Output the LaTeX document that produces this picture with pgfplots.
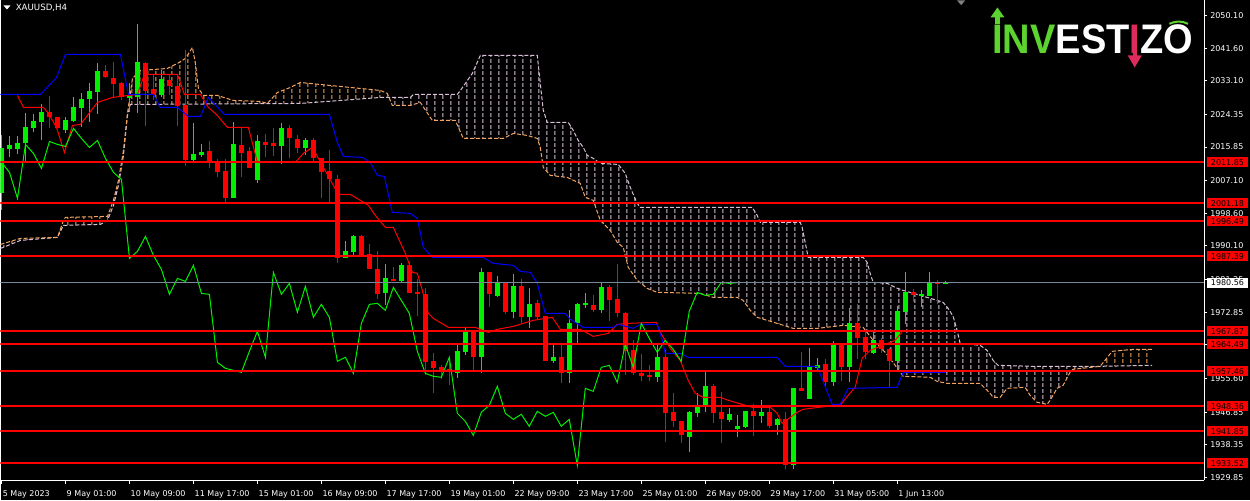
\documentclass[border=0pt]{standalone}
\usepackage{fontspec}
\setmainfont{DejaVu Sans}
\newfontfamily\logofont{Liberation Sans}
\usepackage{pgfplots}
\pgfplotsset{compat=1.18}
\usepackage{pgfplotstable}
\usetikzlibrary{patterns}
\definecolor{sandy}{HTML}{F4A460}
\definecolor{thist}{HTML}{D8BFD8}
\definecolor{bull}{HTML}{00F000}
\definecolor{bear}{HTML}{FF0000}
\definecolor{kijun}{HTML}{0000FF}
\definecolor{bidgray}{HTML}{778899}
\definecolor{logogreen}{HTML}{5CD32E}
\definecolor{logopink}{HTML}{DC2B5C}
\pgfdeclarepatternformonly{vdash}{\pgfpointorigin}{\pgfpoint{6pt}{4.5pt}}{\pgfpoint{6pt}{4.5pt}}{%
  \pgfsetlinewidth{0.75pt}%
  \pgfpathmoveto{\pgfpoint{3pt}{0pt}}%
  \pgfpathlineto{\pgfpoint{3pt}{3pt}}%
  \pgfusepath{stroke}}
\newcommand\lblfont{\fontsize{6}{7}\selectfont}

\pgfplotstableread{
n o h l c
1 2003.78 2018.87 1999.36 2015.49
2 2015.23 2018.61 2013.15 2016.27
3 2015.23 2018.61 2013.93 2016.79
4 2016.79 2024.60 2011.85 2020.96
5 2020.71 2024.34 2019.65 2022.52
6 2022.26 2026.94 2017.57 2024.86
9 2020.43 2023.56 2019.39 2022.78
10 2022.52 2028.76 2022.26 2026.16
11 2025.90 2029.80 2020.96 2028.24
12 2028.24 2032.66 2022.26 2030.32
13 2030.06 2037.61 2024.34 2035.53
17 2028.50 2032.66 2024.86 2029.02
18 2028.76 2048.02 2024.60 2037.87
21 2029.28 2035.79 2028.76 2033.44
25 2012.37 2022.00 2011.85 2013.93
26 2013.67 2016.53 2013.15 2014.45
30 2002.48 2022.26 2002.48 2016.53
33 2007.16 2018.87 2006.38 2017.31
36 2016.01 2022.00 2011.33 2020.71
39 2015.49 2018.09 2013.67 2017.57
44 1986.87 1991.29 1986.87 1988.69
45 1988.43 1992.85 1987.65 1992.59
49 1977.76 1985.31 1974.64 1981.66
51 1980.88 1985.57 1980.36 1985.05
58 1956.95 1964.23 1955.64 1962.67
59 1962.41 1968.65 1961.63 1967.87
61 1961.11 1984.27 1956.95 1983.23
63 1976.98 1982.18 1976.72 1980.36
65 1972.82 1982.71 1971.26 1979.58
67 1971.52 1979.06 1968.65 1974.90
70 1960.07 1964.49 1959.55 1961.11
72 1956.95 1973.34 1954.34 1969.95
73 1969.95 1975.16 1964.23 1974.90
74 1974.90 1977.76 1973.86 1975.16
76 1973.34 1980.62 1972.56 1979.32
83 1955.92 1964.75 1954.60 1961.11
87 1940.29 1947.06 1936.39 1946.80
88 1946.54 1951.74 1945.50 1948.62
89 1948.36 1957.21 1946.80 1953.56
92 1944.72 1947.84 1944.20 1946.28
93 1942.37 1946.02 1940.29 1943.15
94 1942.89 1947.06 1942.63 1947.06
96 1945.76 1949.92 1943.94 1946.80
98 1943.42 1945.24 1940.81 1944.98
100 1933.00 1953.04 1931.96 1953.04
102 1950.18 1963.45 1950.18 1958.51
103 1958.25 1960.85 1957.47 1959.03
105 1954.60 1965.27 1953.56 1964.49
107 1958.51 1973.86 1954.60 1969.95
110 1962.15 1967.61 1961.89 1965.53
113 1960.07 1974.38 1957.73 1973.08
114 1972.82 1983.23 1969.69 1978.02
116 1977.24 1978.54 1974.12 1977.50
117 1976.98 1983.23 1976.98 1980.62
119 1980.30 1980.88 1980.10 1980.56
}\bulltab

\pgfplotstableread{
n o h l c
7 2024.86 2029.02 2020.71 2023.56
8 2023.56 2023.56 2020.71 2020.71
14 2035.53 2037.09 2033.70 2033.96
15 2033.96 2038.13 2028.76 2032.40
16 2032.66 2032.66 2027.98 2028.76
19 2037.87 2037.87 2021.22 2030.58
20 2030.84 2034.75 2027.98 2029.28
22 2033.44 2034.75 2029.28 2031.88
23 2031.88 2034.75 2021.22 2026.42
24 2026.68 2041.25 2010.81 2012.37
27 2014.71 2017.31 2010.29 2011.85
28 2011.85 2012.63 2007.94 2009.25
29 2009.51 2012.63 2000.92 2002.48
31 2016.27 2020.96 2007.94 2014.19
32 2014.71 2015.75 2010.29 2010.29
34 2017.31 2019.13 2013.15 2016.53
35 2016.79 2020.71 2013.41 2016.01
37 2020.71 2021.48 2012.89 2018.09
38 2018.09 2018.87 2014.19 2015.75
40 2017.57 2018.09 2011.85 2012.89
41 2012.89 2012.89 2002.48 2009.25
42 2009.51 2014.97 2001.44 2007.42
43 2007.42 2008.47 1985.57 1986.87
46 1992.59 1992.85 1987.65 1987.65
47 1987.91 1990.51 1984.01 1984.01
48 1984.01 1988.69 1976.20 1977.50
50 1981.40 1984.53 1980.88 1980.88
52 1985.05 1985.83 1977.76 1977.76
53 1978.02 1981.40 1971.78 1977.50
54 1977.50 1979.06 1956.43 1959.81
55 1960.07 1962.15 1951.74 1958.25
56 1958.51 1959.03 1955.38 1957.73
57 1957.99 1960.85 1953.82 1957.21
60 1967.87 1968.13 1957.73 1961.11
62 1983.23 1983.23 1974.12 1977.50
64 1980.36 1980.36 1972.30 1972.82
66 1979.58 1981.40 1969.95 1971.52
68 1975.16 1975.94 1970.74 1971.52
69 1971.78 1971.78 1960.07 1960.07
71 1961.11 1964.49 1954.34 1956.95
75 1974.64 1977.24 1972.82 1973.34
77 1979.32 1979.84 1970.48 1975.94
78 1976.20 1985.31 1971.52 1972.56
79 1972.56 1972.82 1956.43 1962.67
80 1962.93 1965.53 1956.43 1956.95
81 1956.95 1961.89 1954.86 1956.17
82 1956.43 1959.03 1954.86 1955.92
84 1961.11 1962.93 1938.99 1946.54
85 1946.80 1951.74 1942.89 1944.46
86 1944.46 1944.46 1938.73 1940.81
90 1953.56 1954.08 1943.94 1946.54
91 1946.80 1952.00 1938.73 1944.98
95 1947.06 1948.88 1940.55 1945.76
97 1946.80 1948.10 1942.63 1943.15
99 1944.98 1946.80 1931.96 1933.00
101 1953.04 1962.41 1952.26 1952.26
104 1959.29 1960.59 1953.56 1954.60
106 1964.75 1964.75 1954.86 1958.51
108 1969.95 1974.90 1960.59 1966.05
109 1966.31 1967.61 1960.59 1962.41
111 1965.53 1966.05 1962.15 1963.19
112 1963.19 1963.45 1953.30 1960.07
115 1978.02 1978.80 1975.42 1977.24
118 1980.62 1981.14 1974.90 1980.36
}\beartab

\begin{document}
\begin{tikzpicture}[x=1pt,y=1pt]
\fill[black] (0,0) rectangle (937.5,375);
\begin{axis}[
  at={(0pt,15pt)}, anchor=south west,
  scale only axis, width=903pt, height=360pt,
  xmin=0.875, xmax=151.375, ymin=1929.1, ymax=2054.0,
  axis x line*=bottom, axis y line*=right,
  axis line style={white, line width=0.75pt},
  tick style={white, line width=0.75pt},
  tick align=outside, major tick length=2.5pt,
  xtick={1,9,17,25,33,41,49,57,65,73,81,89,97,105,113},
  xticklabels={5 May 2023, 9 May 01:00, 10 May 09:00, 11 May 17:00, 15 May 01:00, 16 May 09:00, 17 May 17:00, 19 May 01:00, 22 May 09:00, 23 May 17:00, 25 May 01:00, 26 May 09:00, 29 May 17:00, 31 May 05:00, 1 Jun 13:00},
  ytick={2050.10,2041.60,2033.10,2024.35,2015.85,2007.10,1998.60,1990.10,1981.35,1972.85,1964.35,1955.60,1946.85,1938.35,1929.85},
  yticklabels={2050.10,2041.60,2033.10,2024.35,2015.85,2007.10,1998.60,1990.10,1981.35,1972.85,1964.35,1955.60,1946.85,1938.35,1929.85},
  xticklabel style={font=\lblfont, text=white, anchor=base west, inner sep=0pt, xshift=0.75pt, yshift=-9.75pt},
  yticklabel style={font=\lblfont, text=white, anchor=west, inner sep=0pt, xshift=2pt},
]
% cloud hatching: span A forward, span B back, per crossing segment
\addplot[draw=none, pattern=vdash, pattern color=sandy, forget plot] coordinates {
(0.875,1990.51) (3.375,1992.07) (8,1992.33) (8.75,1996.76) (9,1997.54) (14.25,1997.80) (15,2001.96) (15.625,2007.16) (16.25,2014.97) (16.75,2024.60) (17.375,2033.70) (18.375,2035.79) (21.75,2036.31) (23,2037.61) (24,2038.91) (24.875,2041.77) (25.25,2037.61) (25.625,2031.10) (26.25,2029.28) (28,2029.28) (30,2027.98) (33.375,2027.72) (34.25,2027.20) (35.5,2030.06) (37.125,2031.36) (38.375,2032.66) (42.125,2031.88) (45.875,2031.10) (48.375,2030.58) (49.25,2029.80) (49.46,2028.76)
(48.375,2028.76) (38.375,2027.20) (17.125,2026.94) (16.75,2024.08) (16.25,2013.67) (15.625,2005.86) (15,2000.66) (14.25,1996.76) (13.375,1995.72) (8.75,1995.46) (8,1992.33) (3.375,1991.55) (0.875,1989.47)};
\addplot[draw=none, pattern=vdash, pattern color=thist, forget plot] coordinates {
(49.46,2028.76) (49.875,2026.68) (52.125,2026.68) (53.375,2027.46) (54.875,2022.78) (57.75,2022.78) (58.75,2018.09) (63.75,2018.09) (65,2019.39) (66.75,2018.87) (68,2018.09) (68.375,2015.75) (68.75,2010.55) (69.625,2008.47) (71.75,2007.94) (73.375,2006.38) (74,2002.74) (75,2001.96) (75.875,1996.76) (77.125,1994.15) (78,1991.03) (78.75,1989.73) (79.375,1984.53) (80.5,1981.14) (81.75,1979.06) (83,1978.02) (88.375,1977.76) (90,1976.72) (93,1976.72) (93.75,1975.94) (94.625,1973.34) (95.5,1971.52) (96.75,1970.74) (98,1969.95) (100,1968.65) (103,1968.65) (106.25,1969.43) (108.75,1968.91) (110,1965.53) (111.5,1962.41) (112.75,1959.03) (113.75,1956.17) (117.125,1955.92) (118,1954.86) (119.25,1954.34) (123.375,1954.34) (124.625,1951.74) (125,1950.70) (125.875,1950.70) (126.75,1953.04) (129,1953.30) (129.625,1951.22) (130.5,1949.40) (131.75,1948.88) (132.125,1949.92) (133,1953.04) (133.75,1953.82) (134.625,1957.21) (135,1957.99) (138.375,1958.77)
(130,1958.77) (125.625,1959.03) (125,1960.33) (124.25,1962.93) (123.375,1964.23) (120.875,1964.75) (120.5,1968.13) (120,1971.78) (119.375,1973.86) (118.75,1975.42) (118,1975.94) (115.875,1977.24) (113.75,1978.54) (112.75,1979.32) (111.75,1980.36) (110,1980.62) (109.625,1982.97) (109.25,1985.83) (108.75,1987.13) (101.875,1987.13) (101.75,1988.43) (101.125,1994.93) (100.875,1996.24) (95.875,1996.24) (95.5,1998.06) (94.875,2000.14) (80.875,2000.14) (80.5,2001.18) (79.625,2005.34) (79,2008.99) (78.125,2011.33) (75.875,2011.59) (75,2012.89) (74.25,2013.67) (73.75,2015.75) (73.125,2017.57) (72.5,2020.17) (71.875,2022.26) (69.25,2022.26) (68.75,2025.38) (68.375,2032.40) (68,2039.69) (60.875,2039.69) (59.875,2035.01) (59,2032.40) (58.375,2030.58) (58,2029.54) (52.5,2029.54) (52.125,2028.76)};
\addplot[draw=none, pattern=vdash, pattern color=sandy, forget plot] coordinates {
(138.375,1958.77) (139,1960.33) (139.875,1962.67) (142.5,1963.19) (144.875,1963.19) (144.875,1959.03)};
% Senkou Span B
\addplot[thist, line width=0.75pt, dash pattern=on 3pt off 1.5pt] coordinates {
(0.875,1989.47) (3.375,1991.55) (8,1992.33) (8.75,1995.46) (13.375,1995.72) (14.25,1996.76) (15,2000.66) (15.625,2005.86) (16.25,2013.67) (16.75,2024.08) (17.125,2026.94) (38.375,2027.20) (48.375,2028.76) (52.125,2028.76) (52.5,2029.54) (58,2029.54) (58.375,2030.58) (59,2032.40) (59.875,2035.01) (60.875,2039.69) (68,2039.69) (68.375,2032.40) (68.75,2025.38) (69.25,2022.26) (71.875,2022.26) (72.5,2020.17) (73.125,2017.57) (73.75,2015.75) (74.25,2013.67) (75,2012.89) (75.875,2011.59) (78.125,2011.33) (79,2008.99) (79.625,2005.34) (80.5,2001.18) (80.875,2000.14) (94.875,2000.14) (95.5,1998.06) (95.875,1996.24) (100.875,1996.24) (101.125,1994.93) (101.75,1988.43) (101.875,1987.13) (108.75,1987.13) (109.25,1985.83) (109.625,1982.97) (110,1980.62) (111.75,1980.36) (112.75,1979.32) (113.75,1978.54) (115.875,1977.24) (118,1975.94) (118.75,1975.42) (119.375,1973.86) (120,1971.78) (120.5,1968.13) (120.875,1964.75) (123.375,1964.23) (124.25,1962.93) (125,1960.33) (125.625,1959.03) (130,1958.77) (138.375,1958.77) (144.875,1959.03)};
% Senkou Span A
\addplot[sandy, line width=0.75pt, dash pattern=on 3pt off 1.5pt] coordinates {
(0.875,1990.51) (3.375,1992.07) (8,1992.33) (8.75,1996.76) (9,1997.54) (14.25,1997.80) (15,2001.96) (15.625,2007.16) (16.25,2014.97) (16.75,2024.60) (17.375,2033.70) (18.375,2035.79) (21.75,2036.31) (23,2037.61) (24,2038.91) (24.875,2041.77) (25.25,2037.61) (25.625,2031.10) (26.25,2029.28) (28,2029.28) (30,2027.98) (33.375,2027.72) (34.25,2027.20) (35.5,2030.06) (37.125,2031.36) (38.375,2032.66) (42.125,2031.88) (45.875,2031.10) (48.375,2030.58) (49.25,2029.80) (49.875,2026.68) (52.125,2026.68) (53.375,2027.46) (54.875,2022.78) (57.75,2022.78) (58.75,2018.09) (63.75,2018.09) (65,2019.39) (66.75,2018.87) (68,2018.09) (68.375,2015.75) (68.75,2010.55) (69.625,2008.47) (71.75,2007.94) (73.375,2006.38) (74,2002.74) (75,2001.96) (75.875,1996.76) (77.125,1994.15) (78,1991.03) (78.75,1989.73) (79.375,1984.53) (80.5,1981.14) (81.75,1979.06) (83,1978.02) (88.375,1977.76) (90,1976.72) (93,1976.72) (93.75,1975.94) (94.625,1973.34) (95.5,1971.52) (96.75,1970.74) (98,1969.95) (100,1968.65) (103,1968.65) (106.25,1969.43) (108.75,1968.91) (110,1965.53) (111.5,1962.41) (112.75,1959.03) (113.75,1956.17) (117.125,1955.92) (118,1954.86) (119.25,1954.34) (123.375,1954.34) (124.625,1951.74) (125,1950.70) (125.875,1950.70) (126.75,1953.04) (129,1953.30) (129.625,1951.22) (130.5,1949.40) (131.75,1948.88) (132.125,1949.92) (133,1953.04) (133.75,1953.82) (134.625,1957.21) (135,1957.99) (138.375,1958.77) (139,1960.33) (139.875,1962.67) (142.5,1963.19) (144.875,1963.19)};
% candles: wicks and bodies
\addplot[forget plot, draw=none, mark=none, error bars/.cd, y dir=both, y explicit, error mark=none, error bar style={draw=bull, line width=0.75pt}]
  table[x=n, y expr={(\thisrow{h}+\thisrow{l})/2}, y error expr={(\thisrow{h}-\thisrow{l})/2}] {\bulltab};
\addplot[forget plot, draw=none, mark=none, error bars/.cd, y dir=both, y explicit, error mark=none, error bar style={draw=bull, line width=3.75pt}]
  table[x=n, y expr={(\thisrow{o}+\thisrow{c})/2}, y error expr={abs(\thisrow{c}-\thisrow{o})/2}] {\bulltab};
\addplot[forget plot, draw=none, mark=none, error bars/.cd, y dir=both, y explicit, error mark=none, error bar style={draw=bear, line width=0.75pt}]
  table[x=n, y expr={(\thisrow{h}+\thisrow{l})/2}, y error expr={(\thisrow{h}-\thisrow{l})/2}] {\beartab};
\addplot[forget plot, draw=none, mark=none, error bars/.cd, y dir=both, y explicit, error mark=none, error bar style={draw=bear, line width=3.75pt}]
  table[x=n, y expr={(\thisrow{o}+\thisrow{c})/2}, y error expr={abs(\thisrow{c}-\thisrow{o})/2}] {\beartab};
% Tenkan-sen
\addplot[bear, line width=0.75pt] coordinates {
(3,2029.28) (3.75,2026.16) (6.25,2026.16) (6.875,2024.60) (7.875,2020.96) (8.875,2014.45) (9.875,2021.48) (10.875,2021.74) (13,2027.46) (14.875,2028.76) (16.875,2029.28) (18,2029.54) (18.875,2034.75) (23,2034.75) (23.875,2029.54) (25.875,2029.54) (26.875,2026.16) (27.875,2024.34) (29.25,2020.96) (31.875,2020.96) (33,2011.85) (37.75,2011.85) (38.75,2014.19) (39.875,2015.75) (43.125,2003.52) (44.625,2003.52) (45.875,2001.96) (46.875,2000.66) (47.75,1998.06) (49,1994.93) (50,1994.93) (51.5,1988.17) (52.375,1983.23) (53,1982.97) (53.625,1978.54) (54.375,1972.56) (55,1971.26) (56.875,1968.91) (60.25,1968.91) (61.875,1967.61) (63,1968.39) (65,1969.17) (67.5,1970.74) (69.875,1971.52) (70.875,1968.39) (73.375,1968.39) (75,1966.57) (76.875,1967.35) (78,1969.69) (79.25,1969.95) (82.875,1970.22) (83.375,1967.61) (84.625,1963.45) (85.875,1960.33) (86.875,1955.12) (87.75,1951.74) (88.75,1950.70) (90.875,1950.70) (91.875,1949.92) (94.875,1948.10) (97.125,1948.10) (98,1946.54) (98.625,1943.94) (100.5,1946.80) (101.25,1947.58) (104.25,1948.36) (105.875,1948.62) (106.875,1951.22) (107.75,1953.30) (108.625,1960.85) (109.625,1962.93) (111.25,1964.23) (112.75,1965.53) (113.75,1968.13) (119,1968.13)};
% Kijun-sen
\addplot[kijun, line width=0.75pt] coordinates {
(0.875,2029.54) (5.875,2029.54) (7.875,2033.96) (9,2039.95) (15.875,2039.95) (16.875,2029.54) (20,2029.54) (20.875,2026.16) (23,2026.16) (24.375,2023.82) (25.875,2023.82) (26.875,2028.76) (28.875,2024.34) (42,2024.34) (43,2017.05) (43.75,2013.41) (46.125,2013.15) (47.125,2011.85) (48,2008.47) (48.875,2008.20) (49.875,1998.84) (52.125,1998.58) (53,1997.28) (53.75,1989.73) (54.875,1987.13) (61.25,1987.13) (62.5,1985.57) (65,1985.05) (65.875,1983.49) (67.125,1983.23) (68,1980.36) (69,1972.56) (71.5,1972.56) (72.125,1971.00) (73.75,1968.91) (77.5,1968.91) (78.125,1969.69) (80,1968.65) (80.875,1969.69) (83,1969.69) (83.625,1965.53) (84,1962.15) (85.875,1962.15) (86.875,1961.11) (98,1961.11) (99,1958.77) (103,1958.77) (104.875,1948.88) (105.875,1948.88) (106.875,1953.04) (113,1953.30) (113.75,1957.21) (119,1957.21)};
% Chikou span
\addplot[bull, line width=0.75pt] coordinates {
(1,2011.85)(2,2009.25)(3,2002.48)(4,2016.53)(5,2014.19)(6,2010.29)(7,2017.31)(8,2016.53)(9,2016.01)(10,2020.71)(11,2018.09)(12,2015.75)(13,2017.57)(14,2012.89)(15,2009.25)(16,2007.42)(17,1986.87)(18,1988.69)(19,1992.59)(20,1987.65)(21,1984.01)(22,1977.50)(23,1981.66)(24,1980.88)(25,1985.05)(26,1977.76)(27,1977.50)(28,1959.81)(29,1958.25)(30,1957.73)(31,1957.21)(32,1962.67)(33,1967.87)(34,1961.11)(35,1983.23)(36,1977.50)(37,1980.36)(38,1972.82)(39,1979.58)(40,1971.52)(41,1974.90)(42,1971.52)(43,1960.07)(44,1961.11)(45,1956.95)(46,1969.95)(47,1974.90)(48,1975.16)(49,1973.34)(50,1979.32)(51,1975.94)(52,1972.56)(53,1962.67)(54,1956.95)(55,1956.17)(56,1955.92)(57,1961.11)(58,1946.54)(59,1944.46)(60,1940.81)(61,1946.80)(62,1948.62)(63,1953.56)(64,1946.54)(65,1944.98)(66,1946.28)(67,1943.15)(68,1947.06)(69,1945.76)(70,1946.80)(71,1943.15)(72,1944.98)(73,1933.00)(74,1953.04)(75,1952.26)(76,1958.51)(77,1959.03)(78,1954.60)(79,1964.49)(80,1958.51)(81,1969.95)(82,1966.05)(83,1962.41)(84,1965.53)(85,1963.19)(86,1960.07)(87,1973.08)(88,1978.02)(89,1977.24)(90,1977.50)(91,1980.62)(92,1980.36)(93,1980.56)};
% bid line and levels
\addplot[bidgray, line width=0.75pt] coordinates {(0.875,1980.56) (151.375,1980.56)};
\addplot[bear, line width=1.5pt] coordinates {(0.875,2011.85) (151.375,2011.85)};
\addplot[bear, line width=1.5pt] coordinates {(0.875,2001.18) (151.375,2001.18)};
\addplot[bear, line width=1.5pt] coordinates {(0.875,1996.49) (151.375,1996.49)};
\addplot[bear, line width=1.5pt] coordinates {(0.875,1987.39) (151.375,1987.39)};
\addplot[bear, line width=1.5pt] coordinates {(0.875,1967.87) (151.375,1967.87)};
\addplot[bear, line width=1.5pt] coordinates {(0.875,1964.49) (151.375,1964.49)};
\addplot[bear, line width=1.5pt] coordinates {(0.875,1957.46) (151.375,1957.46)};
\addplot[bear, line width=1.5pt] coordinates {(0.875,1948.36) (151.375,1948.36)};
\addplot[bear, line width=1.5pt] coordinates {(0.875,1941.85) (151.375,1941.85)};
\addplot[bear, line width=1.5pt] coordinates {(0.875,1933.52) (151.375,1933.52)};
\coordinate (bid) at (axis cs:151.375,1980.56);
\coordinate (r1) at (axis cs:151.375,2011.85);
\coordinate (r2) at (axis cs:151.375,2001.18);
\coordinate (r3) at (axis cs:151.375,1996.49);
\coordinate (r4) at (axis cs:151.375,1987.39);
\coordinate (r5) at (axis cs:151.375,1967.87);
\coordinate (r6) at (axis cs:151.375,1964.49);
\coordinate (r7) at (axis cs:151.375,1957.46);
\coordinate (r8) at (axis cs:151.375,1948.36);
\coordinate (r9) at (axis cs:151.375,1941.85);
\coordinate (r10) at (axis cs:151.375,1933.52);
\end{axis}
\tikzset{lbl/.style={anchor=west, fill=red, text=black, inner xsep=3pt, inner ysep=0pt, minimum height=7.5pt, font=\lblfont, xshift=2pt}}
\node[lbl] at (r1) {2011.85};
\node[lbl] at (r2) {2001.18};
\node[lbl] at (r3) {1996.49};
\node[lbl] at (r4) {1987.39};
\node[lbl] at (r5) {1967.87};
\node[lbl] at (r6) {1964.49};
\node[lbl] at (r7) {1957.46};
\node[lbl] at (r8) {1948.36};
\node[lbl] at (r9) {1941.85};
\node[lbl] at (r10) {1933.52};
\node[lbl, fill=white] at (bid) {1980.56};
% title
\fill[white] (2.25,371.25) -- (7.5,371.25) -- (4.875,368.25) -- cycle;
\node[anchor=base west, inner sep=0pt, text=white, font=\fontsize{6.5}{7}\selectfont] at (11.25,367.5) {XAUUSD,H4};
\fill[gray] (717.75,375) -- (723.75,375) -- (720.75,371.5) -- cycle;
% logo
\node[anchor=base west, inner sep=0pt, text=white, font=\logofont\bfseries\fontsize{31}{31}\selectfont] at (744,335.25) {\scalebox{0.92}[1]{\textcolor{logogreen}{INV}EST\textcolor{logopink}{I}ZO}};
\fill[logogreen] (746.4,357) rectangle (749.6,362.5);
\fill[logogreen] (742.75,362.25) -- (753.25,362.25) -- (748,369.75) -- cycle;
\fill[logopink] (849.4,336) rectangle (852.6,333.5);
\fill[logopink] (845.75,333.75) -- (856.25,333.75) -- (851,324.75) -- cycle;
\draw[logogreen, line width=1.5pt] (877,357.5) to[bend left=25] (891,357.5);
\path[use as bounding box] (0,0) rectangle (937.5,375);
\end{tikzpicture}
\end{document}
